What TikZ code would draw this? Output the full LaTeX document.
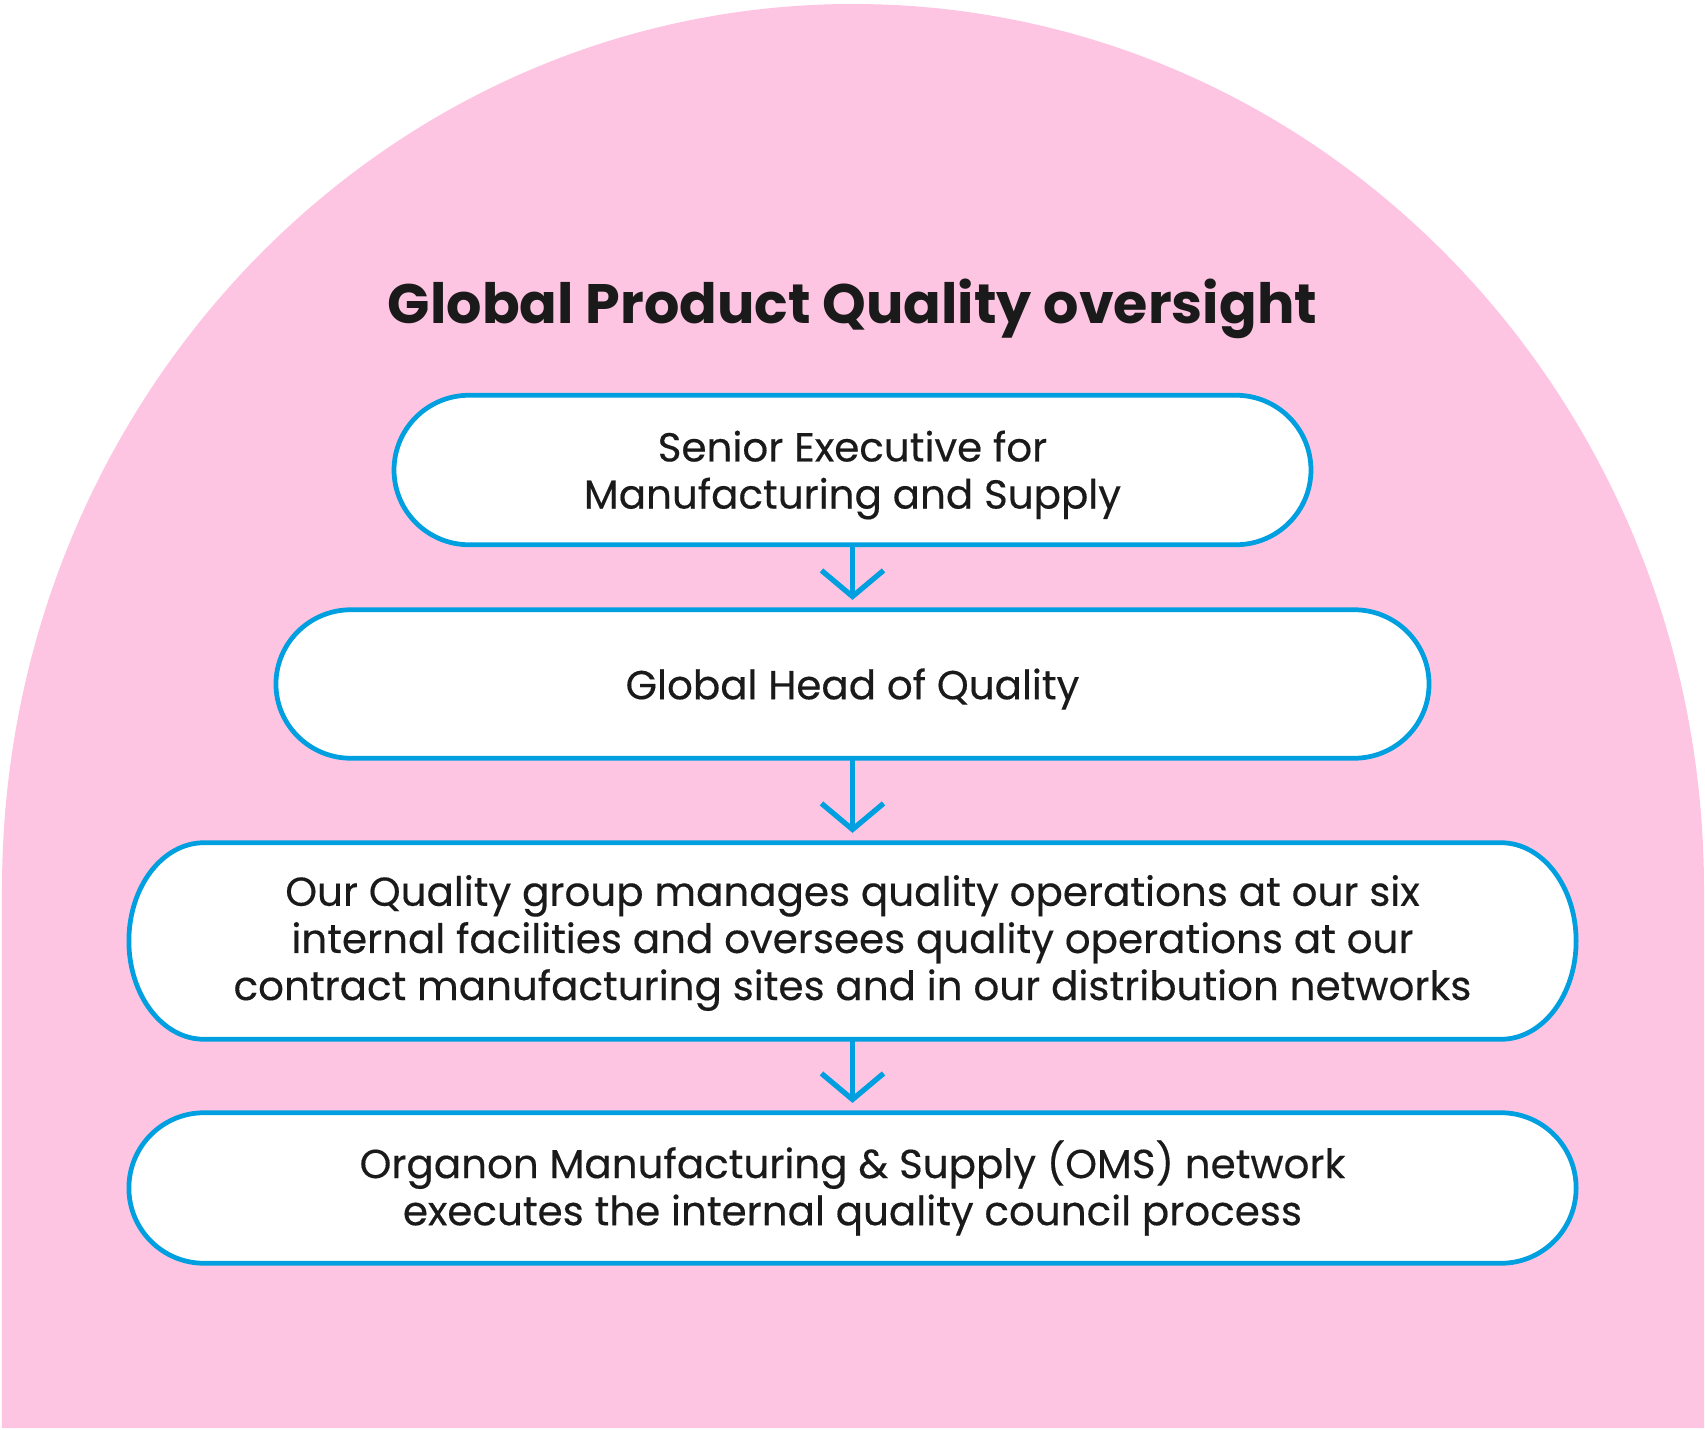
\documentclass[tikz,border=0pt]{standalone}
\usepackage{fontspec}
\setmainfont{Poppins}
\newfontfamily\medfont{Poppins}[FakeBold=0.35]
\usetikzlibrary{arrows.meta,calc}
\definecolor{archpink}{HTML}{FEC5E3}
\definecolor{lineblue}{HTML}{009FDF}
\definecolor{inkgray}{HTML}{1A1A1A}
% stadium outline with elliptic ends, drawn round a named node
\newcommand{\pillframe}[1]{%
  \draw[frame] let \p1=(#1.north west), \p2=(#1.south east), \n1={(\y1-\y2)/2} in
    (\x1+0.75cm,\y1) -- (\x2-0.75cm,\y1)
    arc[start angle=90,end angle=-90,x radius=0.75cm,y radius=\n1]
    -- (\x1+0.75cm,\y2)
    arc[start angle=270,end angle=90,x radius=0.75cm,y radius=\n1] -- cycle;}

\begin{document}
\begin{tikzpicture}[x=0.01cm,y=-0.01cm,
  txt/.style={text=inkgray,font=\medfont\fontsize{11.5}{13.4}\selectfont},
  pill/.style={txt,align=center,inner sep=0pt},
  frame/.style={draw=lineblue,fill=white,line width=1.35pt},
  flow/.style={draw=lineblue,line width=1.5pt,shorten >=2.8pt,
    -{Straight Barb[length=2.6mm,width=6.2mm]}}]
\useasboundingbox (0,0) rectangle (1705,1430);
\fill[archpink] (2,1428) -- (2,889)
  arc[start angle=180,end angle=360,x radius=851,y radius=885]
  -- (1704,1428) -- cycle;
\node[text=inkgray,font=\fontsize{15.8}{19}\selectfont\bfseries] (title) at (852.5,309)
  {Global Product Quality oversight};
\node[pill,minimum width=9.15cm,minimum height=1.48cm] (exec) at (852.5,470) {};
\node[pill,minimum width=11.51cm,minimum height=1.47cm] (head) at (852.5,684) {};
\node[pill,minimum width=14.45cm,minimum height=1.95cm] (group) at (852.5,941) {};
\node[pill,minimum width=14.45cm,minimum height=1.49cm] (oms) at (852.5,1188) {};
\foreach \b in {exec,head,group,oms}{\pillframe{\b}}
\node[pill] at (852.5,475) {Senior Executive for\\Manufacturing and Supply};
\node[pill] at (852.5,689) {Global Head of Quality};
\node[pill] at (852.5,943) {Our Quality group manages quality operations at our six\\
  internal facilities and oversees quality operations at our\\
  contract manufacturing sites and in our distribution networks};
\node[pill] at (oms) {Organon Manufacturing \& Supply (OMS) network\\
  executes the internal quality council process};
\draw[flow] (exec.south) -- (head.north);
\draw[flow] (head.south) -- (group.north);
\draw[flow] (group.south) -- (oms.north);
\end{tikzpicture}
\end{document}
